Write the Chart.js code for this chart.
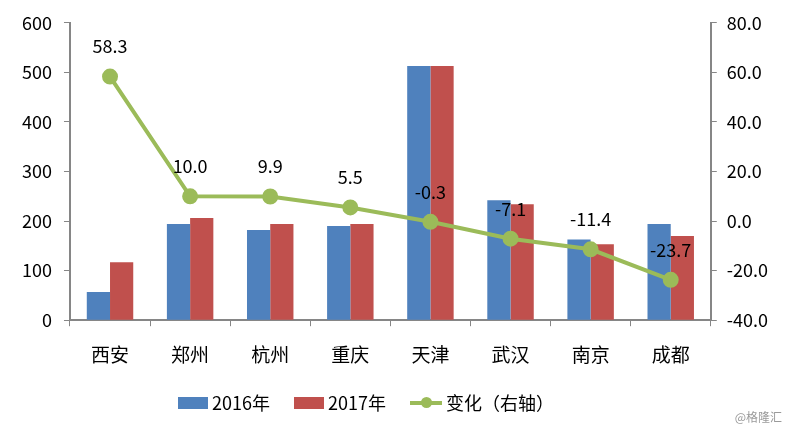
<!DOCTYPE html>
<html>
<head>
<meta charset="utf-8">
<script src="https://cdn.jsdelivr.net/npm/chart.js@4/dist/chart.umd.min.js"></script>
<style>
  html, body { margin: 0; padding: 0; background: #fff; }
  #wrap { position: relative; width: 792px; height: 432px; }
  #legend { position: absolute; left: 178px; top: 386px; white-space: nowrap;
            font-family: "Noto Sans CJK SC", "Noto Sans", sans-serif; font-size: 18px; color: #000; }
  #legend span.item { display: inline-block; margin-right: 20px; vertical-align: middle; }
  .sw { display: inline-block; width: 30px; height: 12px; margin-right: 4px; vertical-align: middle; position: relative; top: -2px; }
  .ln { display: inline-block; width: 32px; height: 4px; background: #9bbb59; margin-right: 4px; vertical-align: middle; position: relative; top: -2px; }
  .ln::after { content: ""; position: absolute; left: 11px; top: -4px; width: 11px; height: 11px; border-radius: 50%; background: #9bbb59; }
  #wm { position: absolute; right: 10px; top: 408px; font-family: "Noto Sans CJK SC", sans-serif; font-size: 12px; color: #9a9a9a; }
</style>
</head>
<body>
<div id="wrap">
  <canvas id="c" width="792" height="432"></canvas>
  <div id="legend">
    <span class="item"><span class="sw" style="background:#4f81bd"></span>2016年</span>
    <span class="item"><span class="sw" style="background:#c0504d"></span>2017年</span>
    <span class="item"><span class="ln"></span>变化（右轴）</span>
  </div>
  <div id="wm">@格隆汇</div>
</div>
<script>
// 城市与数值
const cities = ['西安', '郑州', '杭州', '重庆', '天津', '武汉', '南京', '成都'];
const values2016 = [57, 194, 182, 190, 513, 242, 163, 194];
const values2017 = [117, 206, 194, 194, 513, 234, 153, 170];
const changePct = [58.3, 10.0, 9.9, 5.5, -0.3, -7.1, -11.4, -23.7];

const AXIS_GREY = '#868686';
const FONT = '"Noto Sans CJK SC", "Noto Sans", sans-serif';

// 折线数据标签
const pointLabels = {
    id: 'pointLabels',
    afterDatasetsDraw(chart) {
        const meta = chart.getDatasetMeta(0);
        const ctx = chart.ctx;
        ctx.save();
        ctx.font = '18px ' + FONT;
        ctx.fillStyle = '#000';
        ctx.textAlign = 'center';
        ctx.textBaseline = 'middle';
        meta.data.forEach((pt, i) => {
            ctx.fillText(changePct[i].toFixed(1), pt.x, pt.y - 30);
        });
        ctx.restore();
    }
};

new Chart(document.getElementById('c'), {
    data: {
        labels: cities,
        datasets: [
            { type: 'line', label: '变化（右轴）', data: changePct, yAxisID: 'y1',
              borderColor: '#9bbb59', backgroundColor: '#9bbb59', borderWidth: 4,
              pointRadius: 6, pointHoverRadius: 6, tension: 0, order: 0 },
            { type: 'bar', label: '2016年', data: values2016, yAxisID: 'y',
              backgroundColor: '#4f81bd', categoryPercentage: 0.58, barPercentage: 1, order: 1 },
            { type: 'bar', label: '2017年', data: values2017, yAxisID: 'y',
              backgroundColor: '#c0504d', categoryPercentage: 0.58, barPercentage: 1, order: 1 }
        ]
    },
    options: {
        responsive: false,
        animation: false,
        layout: { padding: { left: 10, right: 14, top: 18, bottom: 49 } },
        plugins: { legend: { display: false }, tooltip: { enabled: false } },
        scales: {
            x: {
                grid: { drawOnChartArea: false, color: AXIS_GREY, tickLength: 6, offset: true },
                border: { color: AXIS_GREY, width: 2 },
                ticks: { color: '#000', font: { family: FONT, size: 19 }, padding: 17 }
            },
            y: {
                position: 'left', min: 0, max: 600,
                grid: { drawOnChartArea: false, color: AXIS_GREY, tickLength: 6 },
                border: { color: AXIS_GREY, width: 2 },
                ticks: { stepSize: 100, color: '#000', font: { family: FONT, size: 18 }, padding: 12 }
            },
            y1: {
                position: 'right', min: -40, max: 80,
                grid: { drawOnChartArea: false, color: AXIS_GREY, tickLength: 6 },
                border: { color: AXIS_GREY, width: 2 },
                ticks: { stepSize: 20, color: '#000', font: { family: FONT, size: 18 }, padding: 10,
                         callback: v => v.toFixed(1) }
            }
        }
    },
    plugins: [pointLabels]
});
</script>
</body>
</html>
